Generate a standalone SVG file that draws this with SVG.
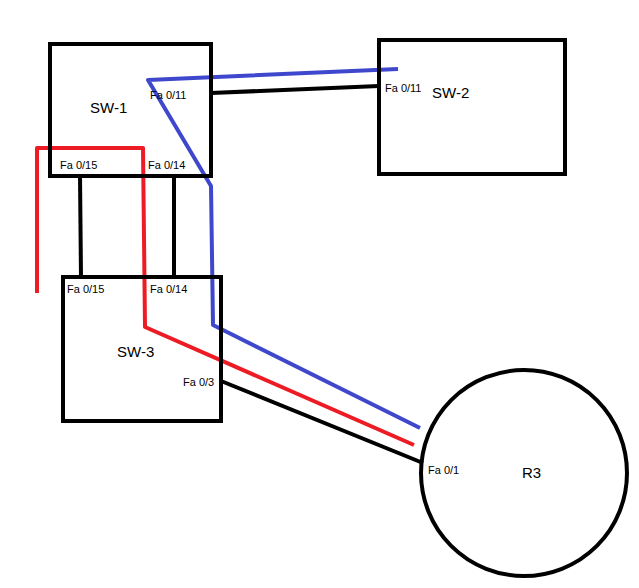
<svg xmlns="http://www.w3.org/2000/svg" width="639" height="588" viewBox="0 0 639 588">
<style>
.n{fill:none;stroke:#000;stroke-width:4}
.c{fill:none;stroke:#000;stroke-width:4}
.b{fill:none;stroke:#3f48cc;stroke-width:4;stroke-linejoin:round}
.r{fill:none;stroke:#ed1c24;stroke-width:4;stroke-linejoin:round}
text{font-family:"Liberation Sans",Arial,sans-serif;fill:#000}
.s{font-size:11px}.l{font-size:15px}
</style>
<rect width="639" height="588" fill="#fff"/>
<g id="connectors">
<line class="c" x1="211" y1="93" x2="379" y2="86"/>
<line class="c" x1="80" y1="176" x2="81" y2="277"/>
<line class="c" x1="174" y1="176" x2="174" y2="277"/>
<line class="c" x1="221" y1="381" x2="423" y2="463"/>
<polyline class="b" points="398,69 148,80 211,186 213,325 420,428"/>
<polyline class="r" points="37,293 37,148 143,148 145,327 414,445"/>
</g>
<g id="sw1"><rect class="n" x="50" y="44" width="161" height="132"/>
<text class="l" x="90" y="113">SW-1</text>
<text class="s" x="150" y="99">Fa 0/11</text>
<text class="s" x="60" y="169">Fa 0/15</text>
<text class="s" x="148" y="169">Fa 0/14</text></g>
<g id="sw2"><rect class="n" x="379" y="40" width="186" height="134"/>
<text class="l" x="432" y="98">SW-2</text>
<text class="s" x="385" y="92">Fa 0/11</text></g>
<g id="sw3"><rect class="n" x="63" y="277" width="158" height="144"/>
<text class="l" x="117" y="357">SW-3</text>
<text class="s" x="67" y="293">Fa 0/15</text>
<text class="s" x="150" y="293">Fa 0/14</text>
<text class="s" x="183" y="386">Fa 0/3</text></g>
<g id="r3"><circle class="n" cx="524" cy="473" r="103"/>
<text class="l" x="522" y="478">R3</text>
<text class="s" x="428" y="474">Fa 0/1</text></g>
</svg>
